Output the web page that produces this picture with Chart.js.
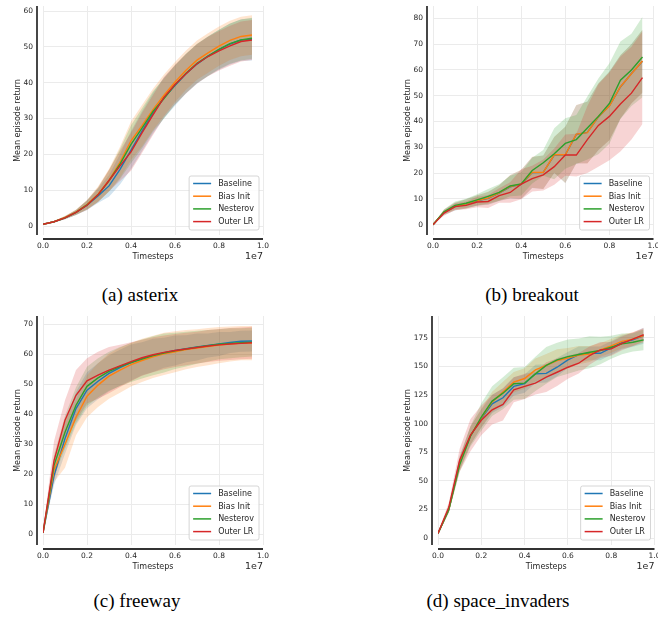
<!DOCTYPE html>
<html lang="en">
<head>
  <meta charset="UTF-8">
  <title>Mean episode return</title>
  <script src="https://cdn.jsdelivr.net/npm/chart.js"></script>
  <style>
    html, body { margin: 0; padding: 0; background: #fff; overflow: hidden; }
    body { width: 658px; height: 618px; position: relative; }
    canvas { position: absolute; }
    .cap { position: absolute; width: 300px; text-align: center; font-family: "Liberation Serif", serif;
           font-size: 19px; line-height: 22px; color: #000; }
  </style>
</head>
<body>
  <canvas id="c0" width="275" height="270" style="left:0;top:0"></canvas>
  <canvas id="c1" width="268" height="270" style="left:390px;top:0"></canvas>
  <canvas id="c2" width="275" height="270" style="left:0;top:310px"></canvas>
  <canvas id="c3" width="268" height="270" style="left:390px;top:310px"></canvas>
  <div class="cap" style="left:-10px;top:284px">(a) asterix</div>
  <div class="cap" style="left:382px;top:284px">(b) breakout</div>
  <div class="cap" style="left:-13px;top:590px">(c) freeway</div>
  <div class="cap" style="left:348px;top:590px">(d) space_invaders</div>
  <script>
    // timesteps in units of 1e7
    const timesteps = [0, 0.05, 0.1, 0.15, 0.2, 0.25, 0.3, 0.35, 0.4, 0.45, 0.5, 0.55, 0.6, 0.65, 0.7, 0.75, 0.8, 0.85, 0.9, 0.95];
    const methods = ['Baseline', 'Bias Init', 'Nesterov', 'Outer LR'];
    const xTicks = [0, 0.2, 0.4, 0.6, 0.8, 1.0];

    // asterix
    const asterixBaseline = [0.5, 1.2, 2.3, 3.8, 5.8, 8.4, 11.2, 15.8, 21.2, 26.5, 31.5, 35.8, 39.2, 42.5, 45.2, 47.4, 49.2, 50.8, 51.9, 52.1];
    const asterixBiasInit = [0.5, 1.2, 2.4, 3.9, 6.0, 8.9, 12.8, 17.8, 23.8, 28.0, 32.5, 36.5, 40.2, 43.5, 46.3, 48.3, 50.2, 51.8, 52.9, 53.3];
    const asterixNesterov = [0.5, 1.2, 2.3, 3.8, 5.9, 8.7, 12.6, 17.3, 22.8, 27.3, 32.0, 35.6, 39.4, 42.6, 45.4, 47.4, 49.3, 50.9, 51.9, 52.4];
    const asterixOuterLR = [0.5, 1.2, 2.3, 3.8, 5.8, 8.7, 12.7, 16.8, 20.7, 26.0, 31.0, 35.9, 39.5, 42.5, 45.3, 47.3, 48.9, 50.3, 51.5, 51.9];
    const asterixBaselineStd = [0.1, 0.2, 0.4, 0.7, 1.3, 2.0, 3.0, 4.2, 5.3, 5.6, 5.7, 5.7, 5.6, 5.5, 5.5, 5.5, 5.6, 5.7, 5.8, 5.9];
    const asterixBiasInitStd = [0.1, 0.2, 0.4, 0.7, 1.3, 2.1, 3.1, 4.3, 5.4, 5.8, 5.8, 5.8, 5.6, 5.5, 5.5, 5.5, 5.5, 5.5, 5.5, 5.5];
    const asterixNesterovStd = [0.1, 0.2, 0.4, 0.7, 1.3, 2.0, 3.0, 4.2, 5.3, 5.6, 5.6, 5.6, 5.5, 5.5, 5.5, 5.5, 5.5, 5.6, 5.7, 5.7];
    const asterixOuterLRStd = [0.1, 0.2, 0.4, 0.7, 1.3, 2.0, 3.0, 4.2, 5.3, 5.6, 5.6, 5.6, 5.5, 5.5, 5.5, 5.5, 5.5, 5.6, 5.6, 5.6];
    const asterixTicks = [0, 10, 20, 30, 40, 50, 60];

    // breakout
    const breakoutBaseline = [0, 4.8, 7.0, 8.1, 9.3, 10.2, 12.2, 14.7, 15.6, 20.2, 20.3, 27.0, 27.1, 35.0, 35.8, 41.8, 46.1, 53.4, 58.6, 63.4];
    const breakoutBiasInit = [0, 4.9, 7.1, 8.1, 9.4, 10.3, 12.3, 14.8, 15.7, 20.3, 20.3, 27.1, 27.1, 35.1, 35.7, 41.9, 46.0, 53.5, 58.5, 63.5];
    const breakoutNesterov = [0, 5.0, 7.5, 8.3, 9.6, 11.0, 12.5, 15.0, 15.8, 21.0, 24.0, 27.5, 31.5, 33.0, 37.5, 42.0, 47.0, 56.0, 60.0, 65.0];
    const breakoutOuterLR = [0, 4.5, 7.0, 7.5, 8.8, 9.0, 11.3, 12.5, 15.7, 17.9, 19.3, 22.5, 27.0, 27.0, 33.0, 38.5, 42.0, 46.8, 51.0, 57.0];
    const breakoutBaselineStd = [0, 1.0, 1.5, 1.8, 2.0, 2.5, 3.0, 4.5, 5.6, 6.0, 6.5, 7.0, 10.9, 11.3, 12.0, 12.9, 13.3, 12.3, 11.5, 12.2];
    const breakoutBiasInitStd = [0, 1.0, 1.5, 1.8, 2.0, 2.5, 3.0, 4.5, 5.6, 6.0, 6.5, 7.0, 10.9, 11.3, 12.0, 12.9, 13.3, 12.3, 11.5, 12.2];
    const breakoutNesterovStd = [0, 1.0, 1.5, 1.8, 2.2, 2.8, 3.2, 4.0, 4.5, 5.0, 5.0, 9.9, 9.8, 9.5, 12.2, 14.7, 15.6, 15.0, 14.0, 15.6];
    const breakoutOuterLRStd = [0, 1.0, 1.3, 1.5, 2.0, 2.5, 2.8, 4.0, 5.8, 5.0, 6.0, 7.0, 8.0, 8.3, 13.0, 16.0, 17.0, 18.4, 18.0, 18.0];
    const breakoutTicks = [0, 10, 20, 30, 40, 50, 60, 70, 80];

    // freeway
    const freewayBaseline = [0.5, 19.5, 31.9, 41.9, 48.0, 51.0, 53.6, 55.5, 57.2, 58.5, 59.6, 60.5, 61.2, 61.8, 62.4, 62.9, 63.4, 63.9, 64.3, 64.4];
    const freewayBiasInit = [0.5, 21.5, 30.0, 39.0, 46.0, 49.7, 52.7, 54.7, 56.5, 57.9, 59.1, 60.1, 60.8, 61.5, 62.0, 62.5, 63.0, 63.4, 63.7, 63.7];
    const freewayNesterov = [0.5, 23.0, 34.0, 43.0, 49.3, 52.1, 54.3, 55.9, 57.2, 58.4, 59.5, 60.4, 61.1, 61.7, 62.3, 62.8, 63.3, 63.6, 63.8, 64.0];
    const freewayOuterLR = [0.5, 24.5, 38.0, 46.3, 51.1, 53.0, 54.7, 56.1, 57.5, 58.8, 59.8, 60.6, 61.2, 61.7, 62.2, 62.7, 63.1, 63.4, 63.6, 63.8];
    const freewayBaselineStd = [0.2, 3.0, 5.0, 5.5, 6.0, 6.0, 6.0, 6.0, 6.0, 5.5, 5.5, 5.0, 5.0, 4.5, 4.5, 4.0, 4.0, 3.5, 3.5, 3.5];
    const freewayBiasInitStd = [0.2, 4.0, 7.8, 6.0, 7.0, 7.3, 7.5, 7.5, 7.3, 7.2, 7.0, 7.0, 6.8, 6.5, 6.3, 6.2, 6.0, 5.8, 5.7, 5.7];
    const freewayNesterovStd = [0.2, 3.5, 5.5, 6.0, 6.5, 6.5, 6.5, 6.5, 6.5, 6.5, 6.5, 6.5, 6.0, 5.8, 5.5, 5.2, 5.0, 5.0, 4.8, 4.8];
    const freewayOuterLRStd = [0.2, 6.5, 6.7, 8.4, 7.5, 7.8, 7.7, 7.0, 6.5, 6.0, 5.8, 5.6, 5.5, 5.4, 5.3, 5.3, 5.3, 5.3, 5.3, 5.3];
    const freewayTicks = [0, 10, 20, 30, 40, 50, 60, 70];

    // space_invaders
    const spaceBaseline = [4, 25, 66, 89.5, 104.4, 117.4, 122.7, 132.6, 135.0, 143.6, 144.0, 149.4, 155.8, 160.5, 161.6, 161.6, 166.3, 171.2, 173.3, 177.0];
    const spaceBiasInit = [4, 25, 65, 89.5, 105.0, 119.0, 127.6, 136.3, 139.5, 147.0, 151.0, 155.2, 157.3, 160.0, 161.0, 164.5, 168.0, 172.0, 174.0, 177.0];
    const spaceNesterov = [4, 25, 64, 89.0, 105.8, 119.8, 126.7, 134.9, 135.5, 143.6, 151.0, 155.8, 158.7, 160.5, 162.5, 164.0, 166.9, 169.8, 171.2, 173.3];
    const spaceOuterLR = [4, 27, 68, 90.0, 103.0, 112.2, 116.9, 129.7, 132.6, 135.5, 140.7, 145.0, 149.4, 152.9, 159.6, 164.5, 165.4, 170.3, 174.0, 177.9];
    const spaceBaselineStd = [1, 3, 6, 8, 8, 8, 8, 8, 8, 8, 8, 8, 7, 7, 6, 6, 6, 6, 6, 7];
    const spaceBiasInitStd = [1, 3, 6, 8, 8, 9, 9, 9, 9, 10, 10, 10, 9, 8, 7, 6, 6, 6, 6, 6];
    const spaceNesterovStd = [1, 3, 6, 9, 12, 13, 14, 14, 14, 15, 16, 15, 15, 14, 14, 12, 10, 9, 8, 9];
    const spaceOuterLRStd = [1, 4, 10, 14, 13, 13, 14, 11, 11, 10, 13, 12, 10, 9, 8, 7, 6, 6, 6, 6];
    const spaceTicks = [0, 25, 50, 75, 100, 125, 150, 175];

    const colors = ['#1f77b4', '#ff7f0e', '#2ca02c', '#d62728'];
    const FONT = 'DejaVu Sans';
    const TEXT = '#262626';

    const panels = [
      { canvas: 'c0', means: [asterixBaseline, asterixBiasInit, asterixNesterov, asterixOuterLR],
        stds: [asterixBaselineStd, asterixBiasInitStd, asterixNesterovStd, asterixOuterLRStd],
        yTicks: asterixTicks, yMin: -2.5, yMax: 61.4, left: 43, right: 12 },
      { canvas: 'c1', means: [breakoutBaseline, breakoutBiasInit, breakoutNesterov, breakoutOuterLR],
        stds: [breakoutBaselineStd, breakoutBiasInitStd, breakoutNesterovStd, breakoutOuterLRStd],
        yTicks: breakoutTicks, yMin: -4, yMax: 84.8, left: 43, right: 4.5 },
      { canvas: 'c2', means: [freewayBaseline, freewayBiasInit, freewayNesterov, freewayOuterLR],
        stds: [freewayBaselineStd, freewayBiasInitStd, freewayNesterovStd, freewayOuterLRStd],
        yTicks: freewayTicks, yMin: -3.5, yMax: 72.7, left: 43, right: 12 },
      { canvas: 'c3', means: [spaceBaseline, spaceBiasInit, spaceNesterov, spaceOuterLR],
        stds: [spaceBaselineStd, spaceBiasInitStd, spaceNesterovStd, spaceOuterLRStd],
        yTicks: spaceTicks, yMin: -6.1, yMax: 194.2, left: 48, right: 3.5 }
    ];

    function rgba(hex, a) {
      const n = parseInt(hex.slice(1), 16);
      return `rgba(${n >> 16},${(n >> 8) & 255},${n & 255},${a})`;
    }

    // spines, axis titles, offset text and legend
    const decor = {
      id: 'decor',
      afterDraw(chart) {
        const ctx = chart.ctx, a = chart.chartArea, xs = chart.scales.x;
        ctx.save();
        ctx.strokeStyle = '#333';
        ctx.lineWidth = 1.8;
        ctx.beginPath();
        ctx.moveTo(a.left - 6, a.top);
        ctx.lineTo(a.left - 6, a.bottom);
        ctx.moveTo(xs.getPixelForValue(0), a.bottom + 4);
        ctx.lineTo(xs.getPixelForValue(1), a.bottom + 4);
        ctx.stroke();

        ctx.fillStyle = TEXT;
        ctx.textBaseline = 'middle';
        ctx.font = `8px "${FONT}"`;
        ctx.textAlign = 'center';
        ctx.fillText('Timesteps', (a.left + a.right) / 2, 257);
        ctx.font = `9.5px "${FONT}"`;
        ctx.textAlign = 'right';
        ctx.fillText('1e7', a.right, 257);
        ctx.save();
        ctx.translate(18, (a.top + a.bottom) / 2);
        ctx.rotate(-Math.PI / 2);
        ctx.font = `8px "${FONT}"`;
        ctx.textAlign = 'center';
        ctx.fillText('Mean episode return', 0, 0);
        ctx.restore();

        // legend
        const items = chart.data.datasets.filter(d => !d.band).sort((p, q) => p.idx - q.idx);
        ctx.font = `8px "${FONT}"`;
        const tw = Math.max(...items.map(d => ctx.measureText(d.label).width));
        const w = 4 + 18 + 7 + tw + 5, h = 54;
        const bx = a.right - 4 - w, by = a.bottom - 5 - h;
        ctx.fillStyle = 'rgba(255,255,255,0.85)';
        ctx.strokeStyle = '#cccccc';
        ctx.lineWidth = 0.8;
        ctx.beginPath();
        ctx.roundRect(bx, by, w, h, 2);
        ctx.fill();
        ctx.stroke();
        items.forEach((d, i) => {
          const y = by + 7.5 + i * 12.7;
          ctx.strokeStyle = d.borderColor;
          ctx.lineWidth = 1.5;
          ctx.beginPath();
          ctx.moveTo(bx + 4, y);
          ctx.lineTo(bx + 22, y);
          ctx.stroke();
          ctx.fillStyle = TEXT;
          ctx.textAlign = 'left';
          ctx.fillText(d.label, bx + 29, y + 0.5);
        });
        ctx.restore();
      }
    };

    panels.forEach(p => {
      const datasets = [];
      methods.forEach((m, i) => {
        const mean = p.means[i], sd = p.stds[i];
        // higher order is drawn earlier: Baseline band first, Outer LR band last
        datasets.push({
          label: m + ' upper', band: true, order: 20 - i,
          data: timesteps.map((t, k) => ({ x: t, y: mean[k] + sd[k] })),
          borderWidth: 0, borderColor: 'transparent', pointRadius: 0,
          backgroundColor: rgba(colors[i], 0.2), fill: '+1'
        });
        datasets.push({
          label: m + ' lower', band: true, order: 20 - i,
          data: timesteps.map((t, k) => ({ x: t, y: mean[k] - sd[k] })),
          borderWidth: 0, borderColor: 'transparent', pointRadius: 0, fill: false
        });
      });
      methods.forEach((m, i) => {
        datasets.push({
          label: m, idx: i, order: 4 - i,
          data: timesteps.map((t, k) => ({ x: t, y: p.means[i][k] })),
          borderColor: colors[i], borderWidth: 1.4, pointRadius: 0, tension: 0, fill: false
        });
      });

      new Chart(document.getElementById(p.canvas), {
        type: 'line',
        data: { datasets },
        plugins: [decor],
        options: {
          responsive: false,
          animation: false,
          devicePixelRatio: 1,
          layout: { padding: { top: 6, right: p.right, left: 0, bottom: 0 } },
          plugins: { legend: { display: false }, tooltip: { enabled: false } },
          scales: {
            x: {
              type: 'linear', min: 0, max: 1.0,
              afterBuildTicks: s => { s.ticks = xTicks.map(v => ({ value: v })); },
              afterFit: s => { s.height = 35; s.paddingLeft = 0; s.paddingRight = 0; },
              ticks: { callback: v => v.toFixed(1), font: { family: FONT, size: 7.5 }, color: TEXT,
                       padding: 7, maxRotation: 0, autoSkip: false },
              grid: { color: '#ebebeb', lineWidth: 1, drawTicks: false },
              border: { display: false }
            },
            y: {
              type: 'linear', min: p.yMin, max: p.yMax,
              afterBuildTicks: s => { s.ticks = p.yTicks.map(v => ({ value: v })); },
              afterFit: s => { s.width = p.left; s.paddingTop = 0; s.paddingBottom = 0; },
              ticks: { font: { family: FONT, size: 7.5 }, color: TEXT, padding: 10 },
              grid: { color: '#ebebeb', lineWidth: 1, drawTicks: false },
              border: { display: false }
            }
          }
        }
      });
    });
  </script>
</body>
</html>
